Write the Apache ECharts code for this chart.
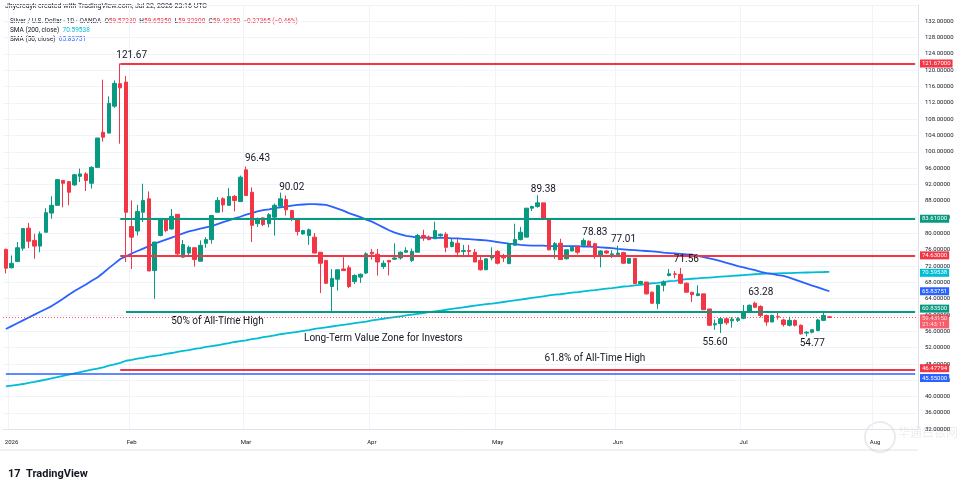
<!DOCTYPE html>
<html lang="en">
<head>
    <meta charset="UTF-8">
    <title>Silver / U.S. Dollar 1D</title>
    <script type="text/javascript" src="https://cdn.jsdelivr.net/npm/echarts@6/dist/echarts.min.js"></script>
    <style>
        html, body { margin: 0; padding: 0; background: #ffffff; }
        #silverChart { width: 964px; height: 482px; }
    </style>
</head>
<body>
<div id="silverChart"></div>
<script type="text/javascript">
    // daily candles, Dec 31 2025 .. Jul 22 2026
    var opens = [76.1, 71.6, 73.1, 76.4, 81.3, 78.3, 76.9, 80.3, 85.0, 86.9,
        93.0, 92.7, 91.9, 94.0, 94.6, 92.3, 96.2, 104.8, 104.6, 111.2,
        116.7, 117.1, 81.7, 80.6, 85.2, 88.5, 70.9, 79.5, 83.4, 81.1,
        84.7, 74.2, 75.2, 76.5, 73.2, 77.6, 78.5, 85.2, 88.5, 86.9,
        89.1, 87.8, 95.6, 90.1, 82.4, 83.8, 82.4, 84.0, 86.7, 88.3,
        85.6, 83.4, 79.9, 79.5, 79.1, 75.4, 73.4, 67.0, 68.8, 71.3,
        71.6, 68.2, 69.3, 70.3, 75.4, 74.9, 71.9, 73.4, 73.7, 74.0,
        75.4, 73.4, 75.4, 79.5, 79.1, 78.7, 79.4, 79.8, 76.8, 77.6,
        75.6, 75.8, 75.4, 73.4, 71.1, 74.0, 75.6, 74.2, 72.6, 77.1,
        78.5, 79.1, 86.2, 86.6, 87.5, 83.4, 76.0, 77.6, 73.8, 75.7,
        76.8, 77.1, 78.1, 77.5, 74.6, 75.7, 74.8, 74.8, 75.3, 72.7,
        73.9, 67.7, 68.1, 65.6, 62.8, 67.3, 69.7, 70.1, 70.0, 67.8,
        65.6, 64.8, 65.2, 61.5, 57.6, 57.9, 59.1, 58.6, 58.7, 59.2,
        60.7, 62.9, 62.1, 59.9, 58.3, 59.6, 58.8, 57.5, 58.7, 57.5,
        55.6, 55.8, 56.2, 58.7, 59.5723];
    var closes = [71.5, 72.7, 76.5, 81.2, 78.1, 76.9, 79.9, 85.1, 86.9, 93.2,
        92.3, 90.1, 94.4, 94.6, 93.0, 96.2, 103.4, 103.6, 111.9, 116.8,
        115.7, 85.2, 79.1, 85.4, 88.1, 70.8, 77.9, 83.4, 80.7, 84.2,
        75.0, 77.3, 76.6, 73.6, 77.1, 78.5, 84.4, 88.1, 87.0, 89.1,
        88.1, 93.8, 89.3, 82.0, 83.4, 82.2, 84.6, 86.9, 88.5, 85.8,
        83.6, 80.5, 80.7, 80.9, 75.2, 72.7, 67.8, 69.0, 71.1, 70.9,
        67.0, 69.7, 70.0, 75.0, 75.0, 73.0, 72.7, 73.0, 74.0, 75.4,
        75.8, 75.6, 79.5, 78.9, 78.5, 80.7, 79.8, 76.6, 77.9, 75.4,
        75.8, 75.6, 73.0, 71.1, 73.8, 74.6, 72.7, 74.0, 77.5, 78.5,
        80.3, 86.2, 86.6, 87.5, 83.6, 76.0, 77.5, 73.6, 76.0, 76.6,
        75.4, 78.3, 76.9, 74.6, 75.7, 75.2, 75.0, 75.2, 72.7, 73.9,
        67.7, 68.2, 65.2, 62.9, 67.3, 68.1, 70.1, 70.0, 67.8, 65.6,
        65.0, 65.2, 61.3, 57.5, 57.9, 59.1, 58.1, 59.0, 59.1, 60.7,
        62.4, 61.9, 59.9, 58.3, 59.9, 59.5, 57.7, 58.7, 57.5, 55.4,
        55.8, 56.4, 58.8, 59.9, 59.4315];
    var lows = [70.2, 71.4, 73.0, 75.8, 76.4, 73.8, 75.4, 80.3, 83.6, 86.9,
        86.4, 86.9, 91.7, 92.6, 90.4, 91.0, 96.2, 102.5, 104.6, 110.8,
        102.0, 73.0, 71.3, 79.5, 82.8, 70.8, 64.0, 79.3, 80.3, 80.9,
        74.6, 74.0, 74.6, 71.9, 73.2, 76.5, 77.5, 85.2, 85.2, 86.9,
        85.4, 87.8, 89.3, 77.9, 81.6, 81.8, 81.5, 79.5, 86.5, 84.4,
        83.0, 79.5, 79.7, 77.2, 75.2, 65.4, 67.6, 61.0, 66.0, 70.8,
        66.6, 67.6, 67.9, 70.1, 73.6, 69.7, 71.3, 69.7, 73.5, 73.6,
        75.4, 73.0, 75.4, 78.2, 78.3, 78.7, 79.2, 75.4, 76.6, 74.2,
        74.2, 74.2, 73.0, 70.9, 71.1, 73.4, 72.4, 73.0, 72.6, 77.1,
        78.3, 79.1, 85.5, 86.3, 83.6, 75.9, 73.8, 73.5, 73.6, 75.7,
        74.9, 77.0, 76.8, 73.8, 71.7, 75.0, 74.0, 74.4, 72.6, 72.5,
        67.7, 67.5, 65.0, 62.7, 61.5, 65.8, 69.5, 69.0, 67.6, 65.6,
        63.2, 64.6, 61.3, 57.3, 56.4, 55.6, 57.6, 56.9, 58.3, 59.0,
        60.7, 61.7, 59.4, 57.4, 58.3, 58.9, 57.2, 57.2, 57.2, 55.2,
        54.77, 55.5, 56.0, 58.5, 59.323];
    var highs = [76.3, 74.6, 77.9, 81.3, 82.6, 79.9, 80.5, 86.2, 89.1, 93.2,
        93.0, 92.7, 94.6, 95.9, 95.0, 96.5, 103.4, 117.7, 113.6, 117.5,
        121.67, 118.6, 88.1, 87.0, 92.2, 90.3, 77.9, 83.6, 83.6, 86.0,
        84.7, 78.4, 77.0, 76.5, 78.3, 79.1, 84.4, 88.9, 88.9, 91.1,
        89.4, 94.2, 96.43, 91.3, 83.9, 84.0, 85.0, 87.3, 90.02, 89.3,
        85.8, 83.6, 80.9, 81.2, 80.1, 75.4, 73.4, 71.3, 71.1, 74.2,
        72.2, 70.0, 70.2, 75.4, 76.2, 76.2, 73.4, 73.4, 77.6, 75.6,
        76.6, 76.3, 79.9, 80.9, 79.5, 82.9, 80.0, 80.3, 78.7, 78.7,
        77.2, 77.2, 76.2, 74.4, 73.8, 76.6, 75.9, 75.0, 77.5, 82.4,
        81.6, 86.2, 86.8, 89.38, 87.5, 83.4, 77.9, 78.7, 76.0, 77.0,
        77.0, 78.83, 78.3, 77.7, 75.9, 75.9, 75.9, 77.01, 75.5, 73.9,
        73.9, 68.4, 68.1, 65.8, 67.3, 68.5, 71.3, 70.8, 71.56, 68.0,
        65.6, 67.3, 65.2, 61.5, 58.9, 59.5, 59.3, 59.5, 59.5, 62.5,
        62.6, 63.28, 62.4, 60.1, 60.1, 60.6, 59.1, 59.6, 58.9, 57.7,
        56.0, 56.4, 59.1, 60.7, 59.6535];

    // SMA (50, close) and SMA (200, close) as drawn
    var sma50 = [56.6, 57.3, 58.0, 58.7, 59.4, 60.1, 60.8, 61.5, 62.2, 63.1,
        64.0, 65.0, 65.9, 66.7, 67.5, 68.4, 69.2, 70.3, 71.5, 72.6,
        73.75, 74.4, 75.1, 75.7, 76.3, 76.9, 77.5, 78.0, 78.5, 79.0,
        79.5, 80.0, 80.5, 80.8, 81.2, 81.5, 81.8, 82.3, 82.8, 83.2,
        83.7, 84.1, 84.6, 85.0, 85.4, 85.7, 85.9, 86.2, 86.4, 86.6,
        86.8, 87.0, 87.1, 87.2, 87.2, 87.1, 87.0, 86.6, 86.1, 85.6,
        85.0, 84.5, 84.0, 83.4, 82.9, 82.2, 81.5, 80.8, 80.2, 79.8,
        79.4, 79.2, 79.0, 79.0, 79.0, 78.9, 78.9, 78.9, 78.8, 78.8,
        78.7, 78.6, 78.5, 78.4, 78.3, 78.1, 77.9, 77.7, 77.5, 77.4,
        77.2, 77.1, 77.0, 77.0, 77.0, 76.9, 76.9, 76.9, 76.9, 76.9,
        76.9, 76.8, 76.8, 76.7, 76.6, 76.5, 76.4, 76.2, 76.1, 76.0,
        75.9, 75.8, 75.7, 75.6, 75.5, 75.3, 75.2, 75.1, 75.0, 74.9,
        74.8, 74.5, 74.2, 73.9, 73.6, 73.2, 72.8, 72.4, 72.0, 71.7,
        71.3, 71.0, 70.6, 70.3, 70.1, 69.8, 69.6, 69.2, 68.7, 68.2,
        67.7, 67.2, 66.8, 66.3, 65.83751];
    var sma200 = [42.5, 42.7, 42.9, 43.1, 43.4, 43.6, 43.9, 44.2, 44.5, 44.8,
        45.1, 45.4, 45.7, 46.0, 46.3, 46.6, 46.9, 47.2, 47.6, 47.9,
        48.3, 48.8, 49.0, 49.3, 49.5, 49.8, 50.0, 50.2, 50.5, 50.7,
        51.0, 51.2, 51.4, 51.7, 51.9, 52.2, 52.4, 52.6, 52.9, 53.1,
        53.4, 53.6, 53.8, 54.1, 54.3, 54.6, 54.8, 55.0, 55.3, 55.5,
        55.7, 55.9, 56.1, 56.3, 56.6, 56.8, 57.0, 57.2, 57.4, 57.6,
        57.8, 58.0, 58.2, 58.4, 58.7, 58.9, 59.1, 59.3, 59.5, 59.7,
        59.9, 60.1, 60.3, 60.5, 60.7, 60.9, 61.1, 61.3, 61.5, 61.7,
        61.9, 62.1, 62.3, 62.5, 62.7, 62.8, 63.0, 63.2, 63.4, 63.6,
        63.8, 64.0, 64.2, 64.4, 64.6, 64.8, 65.0, 65.1, 65.3, 65.5,
        65.6, 65.8, 66.0, 66.1, 66.3, 66.5, 66.6, 66.8, 67.0, 67.1,
        67.3, 67.4, 67.6, 67.8, 67.9, 68.1, 68.3, 68.4, 68.6, 68.8,
        68.9, 69.0, 69.1, 69.2, 69.3, 69.4, 69.5, 69.6, 69.7, 69.8,
        69.9, 70.0, 70.1, 70.14, 70.18, 70.22, 70.26, 70.3, 70.35, 70.39,
        70.43, 70.47, 70.51, 70.55, 70.59538];

    // drawn horizontal levels
    var levelPrices = [121.67, 83.61, 74.63, 60.835, 46.47794, 45.55];
    var levelTags = ['121.67000', '83.61000', '74.63000', '60.83500', '46.47794', '45.55000'];
    var lastPrice = 59.4315;

    // text notes on the chart: [text, candle index, price]
    var noteTexts = ['121.67', '96.43', '90.02', '89.38', '78.83', '77.01', '71.56', '63.28', '55.60', '54.77',
        '50% of All-Time High', 'Long-Term Value Zone for Investors', '61.8% of All-Time High'];
    var noteIndex = [22, 44, 50, 94, 103, 108, 119, 132, 124, 141, 37, 66, 103];
    var notePrices = [123.6, 98.4, 91.3, 90.8, 80.25, 78.5, 73.6, 65.5, 53.3, 53.0, 58.5, 54.3, 49.4];

    var monthNames = ['Jan', 'Feb', 'Mar', 'Apr', 'May', 'Jun', 'Jul', 'Aug', 'Sep', 'Oct', 'Nov', 'Dec'];

    // trading days (weekdays, Jan 1 closed) plus some empty room on the right
    var dates = ['2025-12-31'];
    var d = new Date(Date.UTC(2026, 0, 2));
    while (dates.length < 160) {
        var wd = d.getUTCDay();
        if (wd !== 0 && wd !== 6) dates.push(d.toISOString().slice(0, 10));
        d.setUTCDate(d.getUTCDate() + 1);
    }

    var candles = [];
    for (var i = 0; i < opens.length; i++) {
        candles.push([opens[i], closes[i], lows[i], highs[i]]);
    }

    function isMonthStart(index) {
        return index > 0 && dates[index].slice(5, 7) !== dates[index - 1].slice(5, 7);
    }

    var RED = '#f23645', GREEN = '#089981', BLUE = '#2962ff', CYAN = '#00bcd4';
    var FONT = 'Roboto, "DejaVu Sans", sans-serif';
    var HIDDEN = {color: 'rgba(0,0,0,0)', width: 0, type: 'solid'};
    var levelColors = [RED, GREEN, RED, GREEN, RED, BLUE];
    var levelFrom = [20, 20, 20, 21, 20, 0];
    var tagOffsets = [0, 0, 0, -3, -2, 4];
    var lastIdx = dates.length - 1;

    function tag(text, color, dy) {
        return {
            show: true, position: 'end', distance: 2, formatter: text,
            color: '#ffffff', backgroundColor: color, padding: [1, 2, 1, 2],
            fontSize: 6, fontFamily: FONT, offset: [0, dy || 0]
        };
    }

    var levelSegments = [];
    var levelTagLines = [];
    for (var k = 0; k < levelPrices.length; k++) {
        levelSegments.push([
            {coord: [dates[levelFrom[k]], levelPrices[k]], lineStyle: {color: levelColors[k], width: k === 5 ? 1.5 : 2, type: 'solid'}},
            {coord: [dates[lastIdx], levelPrices[k]]}
        ]);
        levelTagLines.push({yAxis: levelPrices[k], lineStyle: HIDDEN, label: tag(levelTags[k], levelColors[k], tagOffsets[k])});
    }
    levelTagLines.push({
        yAxis: lastPrice,
        lineStyle: {color: RED, type: [1, 2], width: 1, opacity: 0.8},
        label: tag('59.43150\n21:43:11', RED, 4)
    });

    var notes = [];
    for (var n = 0; n < noteTexts.length; n++) {
        notes.push({coord: [dates[noteIndex[n]], notePrices[n]], name: noteTexts[n]});
    }

    var myChart = echarts.init(document.getElementById('silverChart'));
    var option = {
        animation: false,
        backgroundColor: '#ffffff',
        textStyle: {fontFamily: FONT},
        grid: {left: 3, right: 46, top: 5, bottom: 52.7},
        xAxis: {
            type: 'category',
            data: dates,
            boundaryGap: true,
            axisLine: {show: true, lineStyle: {color: '#e0e3eb'}},
            axisTick: {show: false},
            axisLabel: {
                interval: function (index) { return isMonthStart(index); },
                formatter: function (value) {
                    var m = parseInt(value.slice(5, 7), 10) - 1;
                    return m === 0 ? value.slice(0, 4) : monthNames[m];
                },
                fontSize: 6, color: '#131722', margin: 10
            },
            splitLine: {
                show: true,
                interval: function (index) { return isMonthStart(index); },
                lineStyle: {color: '#f0f3fa'}
            }
        },
        yAxis: {
            type: 'value',
            position: 'right',
            min: 32,
            max: 136,
            interval: 4,
            axisLine: {show: true, lineStyle: {color: '#e0e3eb'}},
            axisTick: {show: false},
            axisLabel: {
                showMaxLabel: false,
                formatter: function (v) { return v.toFixed(5); },
                fontSize: 6, color: '#131722', margin: 7
            },
            splitLine: {lineStyle: {color: '#f0f3fa'}}
        },
        series: [
            {
                name: 'SMA (200, close)',
                type: 'line',
                data: sma200,
                symbol: 'none',
                lineStyle: {color: CYAN, width: 1.8},
                z: 3,
                markLine: {
                    silent: true, symbol: ['none', 'none'], animation: false,
                    data: [{yAxis: sma200[sma200.length - 1], lineStyle: HIDDEN, label: tag('70.59538', CYAN, 1)}]
                }
            },
            {
                name: 'SMA (50, close)',
                type: 'line',
                data: sma50,
                symbol: 'none',
                lineStyle: {color: BLUE, width: 1.8},
                z: 3,
                markLine: {
                    silent: true, symbol: ['none', 'none'], animation: false,
                    data: [{yAxis: sma50[sma50.length - 1], lineStyle: HIDDEN, label: tag('65.83751', BLUE, 0)}]
                }
            },
            {
                name: 'Silver',
                type: 'candlestick',
                data: candles,
                barWidth: 4,
                z: 4,
                itemStyle: {
                    color: GREEN, color0: RED,
                    borderColor: GREEN, borderColor0: RED, borderWidth: 1
                }
            },
            {
                name: 'drawings',
                type: 'line',
                data: [],
                z: 5,
                markLine: {
                    silent: true, symbol: ['none', 'none'], animation: false,
                    label: {show: false},
                    data: levelSegments.concat(levelTagLines)
                },
                markPoint: {
                    silent: true, animation: false,
                    symbol: 'circle', symbolSize: 1,
                    itemStyle: {color: 'rgba(0,0,0,0)'},
                    label: {
                        show: true, position: 'inside', formatter: '{b}',
                        color: '#131722', fontSize: 10, fontFamily: FONT
                    },
                    data: notes
                }
            }
        ],
        graphic: [
            {
                type: 'text', left: 5, top: 3,
                style: {text: 'Jhyercayk created with TradingView.com, Jul 22, 2026 23:16 UTC', fontSize: 7, fill: '#131722', fontFamily: FONT}
            },
            {
                type: 'text', left: 10, top: 18,
                style: {
                    text: 'Silver / U.S. Dollar · 1D · OANDA  O{r|59.57230}  H{r|59.65350}  L{r|59.32300}  C{r|59.43150}  {r|−0.27365 (−0.46%)}',
                    fontSize: 6.5, fill: '#131722', fontFamily: FONT,
                    rich: {r: {fill: RED, fontSize: 6.5, fontFamily: FONT}}
                }
            },
            {
                type: 'text', left: 10, top: 27,
                style: {
                    text: 'SMA (200, close)  {c|70.59538}', fontSize: 6.5, fill: '#131722', fontFamily: FONT,
                    rich: {c: {fill: CYAN, fontSize: 6.5, fontFamily: FONT}}
                }
            },
            {
                type: 'text', left: 10, top: 35.5,
                style: {
                    text: 'SMA (50, close)  {b|65.83751}', fontSize: 6.5, fill: '#131722', fontFamily: FONT,
                    rich: {b: {fill: BLUE, fontSize: 6.5, fontFamily: FONT}}
                }
            },
            {
                type: 'line', shape: {x1: 0, y1: 450, x2: 918, y2: 450},
                style: {stroke: '#e0e3eb', lineWidth: 1}
            },
            {
                type: 'text', left: 8, top: 469,
                style: {text: '17', fontSize: 11, fontWeight: 'bold', fill: '#131722', fontFamily: FONT}
            },
            {
                type: 'text', left: 26, top: 469,
                style: {text: 'TradingView', fontSize: 11, fontWeight: 'bold', fill: '#131722', fontFamily: FONT}
            },
            {
                type: 'circle', shape: {cx: 880, cy: 437, r: 15},
                style: {fill: 'none', stroke: 'rgba(0,0,0,0.08)', lineWidth: 2}
            },
            {
                type: 'text', left: 898, top: 426,
                style: {text: '华通白银网', fontSize: 12, fill: 'rgba(0,0,0,0.08)', fontFamily: '"Noto Sans CJK SC", sans-serif'}
            }
        ]
    };

    if (option && typeof option === 'object') {
        myChart.setOption(option, true);
    }
</script>
</body>
</html>
